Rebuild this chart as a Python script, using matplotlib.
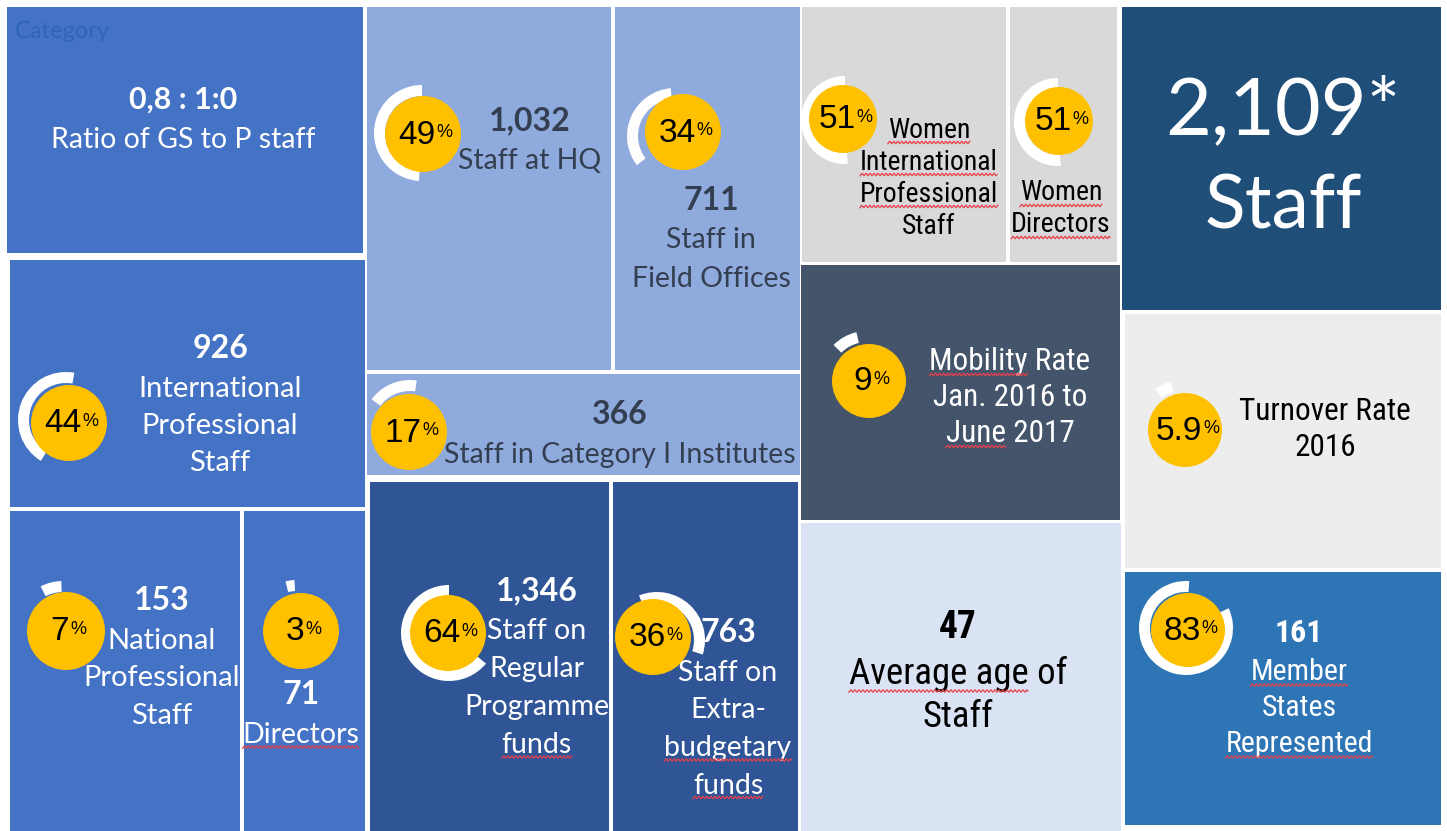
import matplotlib
matplotlib.use("Agg")
import matplotlib.pyplot as plt
import numpy as np
from matplotlib.patches import Rectangle, Circle, Wedge

# ---- data ----
tile_values = ['0,8 : 1:0', '1,032', '711', None, None, '2,109*', '926', '366',
               None, None, '153', '71', '1,346', '763', '47', '161']
tile_labels = [['Ratio of GS to P staff'],
               ['Staff at HQ'],
               ['Staff in', 'Field Offices'],
               ['Women', 'International', 'Professional', 'Staff'],
               ['Women', 'Directors'],
               ['Staff'],
               ['International', 'Professional', 'Staff'],
               ['Staff in Category I Institutes'],
               ['Mobility Rate', 'Jan. 2016 to', 'June 2017'],
               ['Turnover Rate', '2016'],
               ['National', 'Professional', 'Staff'],
               ['Directors'],
               ['Staff on', 'Regular', 'Programme', 'funds'],
               ['Staff on', 'Extra-', 'budgetary', 'funds'],
               ['Average age of', 'Staff'],
               ['Member', 'States', 'Represented']]
tile_pcts = [None, 49, 34, 51, 51, None, 44, 17, 9, 5.9, 7, 3, 64, 36, None, 83]

# words carrying the spell-check squiggle: (tile, line, leading part or None = whole line)
squiggles = [(3, 0, None), (3, 1, None), (3, 2, None), (4, 0, None), (4, 1, None),
             (8, 0, 'Mobility'), (8, 2, 'June'), (11, 0, None), (12, 3, None),
             (13, 2, None), (13, 3, None), (14, 0, 'Average age'),
             (15, 0, None), (15, 2, None)]

# ---- layout (pixel space of the 1447x831 picture) ----
BLUE, LBLUE, DBLUE = '#4472C4', '#8FAADC', '#2F5597'
GREY, NAVY, SLATE = '#D9D9D9', '#1F4E79', '#44546A'
PALE, LGREY, MBLUE = '#DAE3F3', '#EDEDED', '#2E75B6'
DARK = '#333F50'

# rect(x0, y0, x1, y1), face, text colour, text x, value y, first label y, line gap,
# narrow font, label size, value size
layout = [
    ((7, 7, 363, 253), BLUE, 'white', 183, 100, 140, 38, False, 20.5, 22),
    ((367, 7, 611, 370), LBLUE, DARK, 530, 121, 161, 38, False, 20.5, 23),
    ((615, 7, 800, 370), LBLUE, DARK, 711, 200, 240, 39, False, 20.5, 23),
    ((802, 7, 1006, 262), GREY, 'black', 929, None, 130, 32, True, 20, 0),
    ((1010, 7, 1117, 262), GREY, 'black', 1061, None, 193, 32, True, 20, 0),
    ((1122, 7, 1441, 310), NAVY, 'white', 1283, 112, 207, 0, False, 54, 57),
    ((10, 260, 365, 507), BLUE, 'white', 220, 349, 389, 37, False, 21, 23),
    ((367, 374, 800, 475), LBLUE, DARK, 620, 414, 455, 38, False, 20.5, 23),
    ((801, 265, 1120, 520), SLATE, 'white', 1010, None, 361, 36, True, 22.5, 0),
    ((1125, 314, 1441, 568), LGREY, 'black', 1325, None, 411, 36, True, 22.5, 0),
    ((10, 511, 240, 831), BLUE, 'white', 162, 601, 641, 37.5, False, 21, 23),
    ((244, 511, 365, 831), BLUE, 'white', 301, 695, 735, 38, False, 20.5, 23),
    ((370, 482, 609, 831), DBLUE, 'white', 537, 591, 631, 38, False, 20.5, 23),
    ((613, 482, 798, 831), DBLUE, 'white', 728, 633, 673, 37.5, False, 20.5, 23),
    ((801, 523, 1121, 831), PALE, 'black', 958, 627, 674, 43, True, 26.5, 27),
    ((1125, 572, 1441, 825), MBLUE, 'white', 1299, 633, 672, 36, True, 21.5, 23),
]

# circle centre, radius, ring start angle (deg, screen), ring direction, ring centre offset
badges = {
    1: ((423, 134), 38, 90, 1, (-1, -1)),
    2: ((683, 132), 38, 95, 1, (-8, 4)),
    3: ((843, 119), 34, 90, 1, (2, 1)),
    4: ((1059, 121), 34, 90, 1, (-1, 1)),
    6: ((69, 423), 38, 80, 1, (-3, -3)),
    7: ((409, 432), 38, 82, 1, (1, -4)),
    8: ((869, 381), 37, 103, 1, (-2, -3)),
    9: ((1185, 430), 37, 105, 1, (-2, -3)),
    10: ((66, 631), 39, 92, 1, (-3, -1)),
    11: ((301, 631), 38, 93, 1, (-4, -3)),
    12: ((448, 633), 38, 90, 1, (1, 0)),
    13: ((653, 637), 38, 112, -1, (4, 3)),
    15: ((1188, 630), 37, 86, 1, (-2, -2)),
}

SANS = ['Lato', 'DejaVu Sans']
NARROW = ['Liberation Sans Narrow', 'Roboto Condensed', 'Lato', 'DejaVu Sans']
PCTF = ['Liberation Sans', 'DejaVu Sans']

fig = plt.figure(figsize=(14.47, 8.31), dpi=100)
ax = fig.add_axes([0, 0, 1, 1])
ax.set_xlim(0, 1447)
ax.set_ylim(831, 0)
ax.axis('off')

line_texts = {}
for i, (rect, face, tc, tx, vy, ly, gap, narrow, lsize, vsize) in enumerate(layout):
    x0, y0, x1, y1 = rect
    ax.add_patch(Rectangle((x0, y0), x1 - x0, y1 - y0, facecolor=face,
                           edgecolor='none', zorder=1))

    fam = NARROW if narrow else SANS
    val = tile_values[i]
    if i == 5:
        # the big total tile, regular weight
        ax.text(tx, vy, val, ha='center', va='center', color=tc,
                fontsize=vsize, family=SANS, zorder=5)
        ax.text(tx, ly, tile_labels[i][0], ha='center', va='center',
                color=tc, fontsize=lsize, family=SANS, zorder=5)
        continue
    if val is not None:
        ax.text(tx, vy, val, ha='center', va='center', color=tc,
                fontsize=vsize, fontweight='bold', family=fam, zorder=5)
    for k, line in enumerate(tile_labels[i]):
        line_texts[(i, k)] = ax.text(tx, ly + k * gap, line, ha='center',
                                     va='center', color=tc, fontsize=lsize,
                                     family=fam, zorder=5)

# percentage badges
for i, (c, r, start, direction, off) in badges.items():
    p = tile_pcts[i]
    span = direction * p / 100 * 360
    a, b = sorted([start, start + span])
    # y axis is inverted, so screen angles are mirrored in data space
    ax.add_patch(Wedge((c[0] + off[0], c[1] + off[1]), r + 10, -b, -a,
                       width=11, facecolor='white', edgecolor='none', zorder=2))
    ax.add_patch(Circle(c, r, facecolor='#FFC000', edgecolor='none', zorder=3))
    t = ax.text(c[0] - 6, c[1] + 1, '%g' % p, ha='center', va='center',
                color='black', fontsize=24, family=PCTF, zorder=6)
    ax.annotate('%', xy=(1, 1), xycoords=t, xytext=(0.5, -3),
                textcoords='offset points', ha='left', va='top',
                fontsize=13, family=PCTF, color='black', zorder=6)

ax.text(15, 32, 'Category', ha='left', va='center', color='#2F66B5',
        fontsize=17, family=SANS, zorder=5)

# red wavy spell-check underlines
fig.canvas.draw()
renderer = fig.canvas.get_renderer()
inv = ax.transData.inverted()
for i, k, part in squiggles:
    t = line_texts[(i, k)]
    bb = t.get_window_extent(renderer)
    left = bb.x0
    right = bb.x1
    if part is not None:
        tmp = ax.text(0, 0, part, fontsize=t.get_fontsize(),
                      family=t.get_fontfamily())
        right = left + tmp.get_window_extent(renderer).width
        tmp.remove()
    (xa, ya), (xb, _) = inv.transform([(left, bb.y0), (right, bb.y0)])
    xs = np.arange(xa, xb + 0.1, 1.0)
    ys = ya - 1 + 1.3 * np.abs(((xs - xa) % 4) - 2) - 1.3
    ax.plot(xs, ys, color='#E8404A', lw=0.9, zorder=6, solid_joinstyle='miter')

fig.savefig('out.png', dpi=100)
